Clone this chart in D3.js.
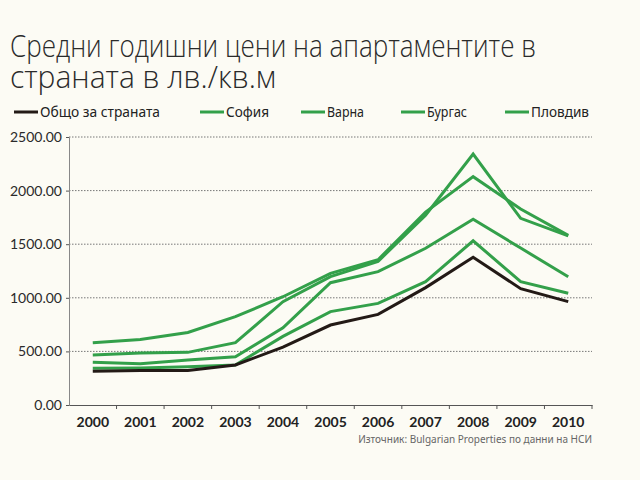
<!DOCTYPE html>
<html lang="bg">
<head>
<meta charset="utf-8">
<script src="https://cdn.jsdelivr.net/npm/d3@7"></script>
<style>
  body { margin: 0; background: #fcfbf4; }
  svg { display: block; }
</style>
</head>
<body>
<svg id="chart" width="640" height="480"></svg>
<script>
// Средни годишни цени на апартаментите -- line chart

var years = [2000, 2001, 2002, 2003, 2004, 2005, 2006, 2007, 2008, 2009, 2010];
var total   = [315, 322, 322, 373, 540, 746, 845, 1095, 1378, 1085, 964];
var sofia   = [581, 612, 676, 824, 1010, 1228, 1355, 1800, 2130, 1828, 1582];
var varna   = [466, 485, 491, 581, 964, 1197, 1340, 1770, 2341, 1741, 1578];
var burgas  = [398, 385, 420, 450, 720, 1141, 1244, 1462, 1732, 1464, 1197];
var plovdiv = [342, 345, 357, 373, 640, 871, 948, 1150, 1532, 1150, 1042];
var yTicks = [0, 500, 1000, 1500, 2000, 2500];

var seriesNames = ["Общо за страната", "София", "Варна", "Бургас", "Пловдив"];
var seriesValues = [total, sofia, varna, burgas, plovdiv];
var green = "#33a04a", black = "#231a16";

var svg = d3.select("#chart");
svg.append("rect").attr("width", 640).attr("height", 480).attr("fill", "#fcfbf4");

///////////////////////////////////////////////////////////////////////////////
// Title

var titleLines = ["Средни годишни цени на апартаментите в", "страната в лв./кв.м"];
var titleW = [526, 266];
svg.append("g").selectAll("text")
  .data(titleLines)
  .join("text")
  .attr("x", 10)
  .attr("y", function (d, i) { return 57 + i * 31; })
  .attr("textLength", function (d, i) { return titleW[i]; })
  .attr("lengthAdjust", "spacingAndGlyphs")
  .style("font-family", "'Open Sans', 'Noto Sans', sans-serif")
  .style("font-weight", 300)
  .style("font-size", "32px")
  .attr("fill", "#2a2a2a")
  .text(function (d) { return d; });

///////////////////////////////////////////////////////////////////////////////
// Legend

var legendX = [14, 200, 301, 401, 505];
var legendW = [120, 43, 37, 40, 58];
var legend = svg.append("g").selectAll("g")
  .data(seriesNames)
  .join("g")
  .attr("transform", function (d, i) { return "translate(" + legendX[i] + ",112)"; });

legend.append("line")
  .attr("x1", 0).attr("x2", 24)
  .attr("stroke", function (d, i) { return i === 0 ? black : green; })
  .attr("stroke-width", 3);

legend.append("text")
  .attr("x", 26).attr("y", 5)
  .attr("textLength", function (d, i) { return legendW[i]; })
  .attr("lengthAdjust", "spacingAndGlyphs")
  .style("font-family", "'Noto Sans', sans-serif")
  .style("font-size", "14px")
  .attr("fill", "#222")
  .text(function (d) { return d; });

///////////////////////////////////////////////////////////////////////////////
// Scales and axes

var x = d3.scaleBand().domain(years).range([69, 592]);
var y = d3.scaleLinear().domain([0, 2500]).range([405, 137]);
var cx = function (yr) { return x(yr) + x.bandwidth() / 2; };

svg.append("g").selectAll("line")
  .data(yTicks.slice(1))
  .join("line")
  .attr("x1", 69).attr("x2", 592)
  .attr("y1", function (d) { return y(d); })
  .attr("y2", function (d) { return y(d); })
  .attr("stroke", "#777")
  .attr("stroke-width", 1)
  .attr("stroke-dasharray", "1.5,1.5");

var yAxis = svg.append("g")
  .attr("transform", "translate(69,0)")
  .call(d3.axisLeft(y).tickValues(yTicks).tickSize(3).tickFormat(d3.format(".2f")));
yAxis.select(".domain").attr("stroke", "#888");
yAxis.selectAll(".tick line").attr("stroke", "#555");
yAxis.selectAll("text")
  .attr("x", -7)
  .style("font-family", "Lato, 'Open Sans', sans-serif")
  .style("font-size", "14px")
  .attr("fill", "#2a2a2a");

var xAxis = svg.append("g")
  .attr("transform", "translate(0,405)")
  .call(d3.axisBottom(x).tickSize(0).tickPadding(12));
xAxis.select(".domain").attr("stroke", "#555");
xAxis.selectAll("text")
  .style("font-family", "Lato, 'Open Sans', sans-serif")
  .style("font-weight", "bold")
  .style("font-size", "14px")
  .attr("fill", "#222");

// tick marks between the years
svg.append("g").selectAll("line")
  .data(years.slice(1).concat(["end"]))
  .join("line")
  .attr("x1", function (d) { return d === "end" ? x.range()[1] : x(d); })
  .attr("x2", function (d) { return d === "end" ? x.range()[1] : x(d); })
  .attr("y1", 405).attr("y2", 409)
  .attr("stroke", "#555");

///////////////////////////////////////////////////////////////////////////////
// Lines

var line = d3.line()
  .x(function (d, i) { return cx(years[i]); })
  .y(function (d) { return y(d); });

var order = [1, 2, 3, 4, 0];
svg.append("g").selectAll("path")
  .data(order)
  .join("path")
  .attr("d", function (k) { return line(seriesValues[k]); })
  .attr("fill", "none")
  .attr("stroke", function (k) { return k === 0 ? black : green; })
  .attr("stroke-width", 3)
  .attr("stroke-linejoin", "miter");

///////////////////////////////////////////////////////////////////////////////
// Source

svg.append("text")
  .attr("x", 592).attr("y", 443)
  .attr("text-anchor", "end")
  .style("font-family", "'Noto Sans', sans-serif")
  .style("font-size", "10px")
  .attr("fill", "#666")
  .text("Източник: Bulgarian Properties по данни на НСИ");
</script>
</body>
</html>
